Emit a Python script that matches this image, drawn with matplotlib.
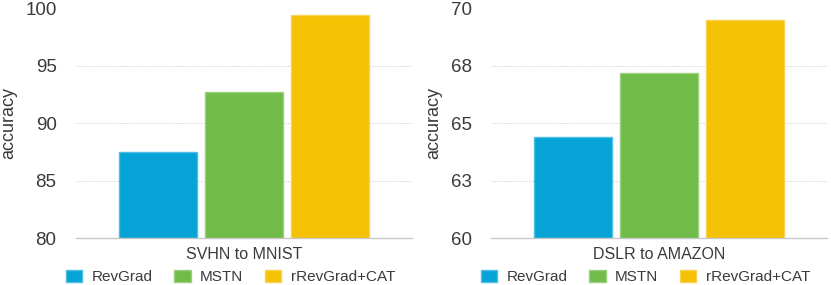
import math
import matplotlib
matplotlib.use("Agg")
import matplotlib.pyplot as plt
from matplotlib.ticker import FuncFormatter

plt.rcParams['font.family'] = ['Liberation Sans', 'DejaVu Sans']

methods = ["RevGrad", "MSTN", "rRevGrad+CAT"]
colors = ["#05A3D6", "#71BB49", "#F5C105"]
edge_colors = ["#4DBDE3", "#9ACF7E", "#F8D250"]

left_task = "SVHN to MNIST"
left_values = [87.5, 92.7, 99.4]
left_ticks = [80, 85, 90, 95, 100]

right_task = "DSLR to AMAZON"
right_values = [64.4, 67.2, 69.5]
right_ticks = [60, 62.5, 65, 67.5, 70]

fig = plt.figure(figsize=(8.31, 2.85), dpi=100)
ax_l = fig.add_axes([76 / 831, 46.7 / 285, 336 / 831, 229.8 / 285])
ax_r = fig.add_axes([491 / 831, 46.7 / 285, 336 / 831, 229.8 / 285])

fmt = FuncFormatter(lambda v, p: str(int(math.floor(v + 0.5))))

for ax, task, vals, ticks in [(ax_l, left_task, left_values, left_ticks),
                              (ax_r, right_task, right_values, right_ticks)]:
    x = [0, 1, 2]
    bars = ax.bar(x, vals, width=0.905, color=colors, edgecolor=edge_colors,
                  linewidth=1.0, zorder=3)
    ax.set_ylim(ticks[0], ticks[-1])
    ax.set_xlim(-0.953, 2.953)
    ax.set_yticks(ticks)
    ax.yaxis.set_major_formatter(fmt)
    ax.set_xticks([1])
    ax.set_xticklabels([task])
    for s in ["top", "right", "left"]:
        ax.spines[s].set_visible(False)
    ax.spines["bottom"].set_color("#c8c8c8")
    ax.spines["bottom"].set_linewidth(1.0)
    ax.spines["bottom"].set_zorder(4)
    ax.tick_params(axis="y", length=0, pad=14, labelsize=13.5, labelcolor="#3a3a3a")
    ax.tick_params(axis="x", length=0, pad=6, labelsize=11.5, labelcolor="#3a3a3a")
    ax.grid(axis="y", color="#dcdcdc", linestyle=(0, (2, 1.2)), linewidth=0.7, zorder=0)
    ax.set_ylabel("accuracy", fontsize=13, color="#3a3a3a")
    ax.legend(bars, methods, loc="center", bbox_to_anchor=(0.46, -0.168),
              ncol=3, frameon=False, fontsize=11, handlelength=1.05,
              handleheight=0.92, handletextpad=0.62, columnspacing=1.44,
              labelcolor="#3a3a3a", borderpad=0, borderaxespad=0)

ax_l.yaxis.set_label_coords(-0.174, 0.5)
ax_r.yaxis.set_label_coords(-0.146, 0.5)

fig.savefig("out.png", dpi=100)
